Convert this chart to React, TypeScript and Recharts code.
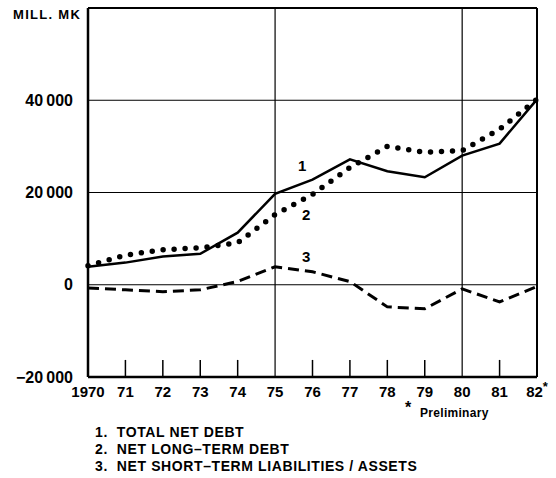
import { LineChart, Line, XAxis, YAxis, ReferenceLine } from "recharts";

const years = [1970, 1971, 1972, 1973, 1974, 1975, 1976, 1977, 1978, 1979, 1980, 1981, 1982];
const totalNetDebt = [3900, 4800, 6100, 6700, 11300, 19700, 22800, 27200, 24600, 23300, 28000, 30600, 40200];
const netLongTermDebt = [4100, 6400, 7600, 8000, 9100, 15200, 19600, 25400, 30000, 28700, 29100, 33700, 40200];
const netShortTerm = [-700, -1100, -1500, -1100, 700, 3900, 2800, 700, -4800, -5200, -900, -3700, -400];

const yTicks = [-20000, 0, 20000, 40000];
const yTickLabels = ["\u221220\u2009000", "0", "20\u2009000", "40\u2009000"];
const gridYears = [1975, 1980];
const tickYears = [1971, 1972, 1973, 1974, 1976, 1977, 1978, 1979, 1981];
const legendItems = [
  "1.  TOTAL NET DEBT",
  "2.  NET LONG\u2013TERM DEBT",
  "3.  NET SHORT\u2013TERM LIABILITIES / ASSETS",
];

const data = years.map((year, i) => ({
  year,
  total: totalNetDebt[i],
  longTerm: netLongTermDebt[i],
  shortTerm: netShortTerm[i],
}));

const FONT = "'Liberation Sans', Arial, sans-serif";

const XTick = (props: any) => {
  const { x, y, payload } = props;
  const v: number = payload.value;
  const label = v === 1970 ? "1970" : String(v).slice(2);
  return (
    <text x={x} y={y} dy="0.71em" textAnchor="middle" fontSize={15} fontWeight="bold" fill="#000" fontFamily={FONT}>
      <tspan>{label}</tspan>
      {v === 1982 && (
        <tspan dy={-6} fontSize={13}>
          *
        </tspan>
      )}
    </text>
  );
};

const yFormat = (v: number) => yTickLabels[yTicks.indexOf(v)] ?? "";

export default function App() {
  return (
    <div style={{ position: "relative", width: 556, height: 478, background: "#fff", fontFamily: FONT, fontWeight: "bold", color: "#000" }}>
      <style>{"body{margin:0}"}</style>
      <LineChart width={556} height={400} data={data} margin={{ top: 8, right: 19, bottom: 0, left: 0 }}>
        <XAxis
          dataKey="year"
          type="number"
          domain={[1970, 1982]}
          ticks={years}
          interval={0}
          height={23}
          tickSize={0}
          tickMargin={9}
          tickLine={false}
          axisLine={{ stroke: "#000", strokeWidth: 2.5 }}
          tick={<XTick />}
        />
        <YAxis
          type="number"
          domain={[-20000, 60000]}
          ticks={yTicks}
          width={88}
          tickSize={0}
          tickMargin={15}
          tickLine={false}
          axisLine={{ stroke: "#000", strokeWidth: 2.5 }}
          tickFormatter={yFormat}
          tick={{ fill: "#000", fontSize: 16, fontWeight: "bold", fontFamily: FONT }}
        />
        {[0, 20000, 40000].map((v) => (
          <ReferenceLine key={"h" + v} y={v} stroke="#000" strokeWidth={1} />
        ))}
        {gridYears.map((yr) => (
          <ReferenceLine key={"v" + yr} x={yr} stroke="#000" strokeWidth={1.2} />
        ))}
        {tickYears.map((yr) => (
          <ReferenceLine
            key={"t" + yr}
            segment={[
              { x: yr, y: -20000 },
              { x: yr, y: -16300 },
            ]}
            stroke="#000"
            strokeWidth={1.5}
          />
        ))}
        <ReferenceLine y={60000} stroke="#000" strokeWidth={2} />
        <ReferenceLine x={1982} stroke="#000" strokeWidth={2} />
        <Line
          dataKey="shortTerm"
          stroke="#000"
          strokeWidth={3}
          strokeDasharray="11 6"
          dot={false}
          isAnimationActive={false}
          type="linear"
        />
        <Line
          dataKey="longTerm"
          stroke="#000"
          strokeWidth={5.5}
          strokeDasharray="0 11"
          strokeLinecap="round"
          dot={false}
          isAnimationActive={false}
          type="linear"
        />
        <Line
          dataKey="total"
          stroke="#000"
          strokeWidth={2.5}
          dot={false}
          isAnimationActive={false}
          type="linear"
        />
      </LineChart>

      <div style={{ position: "absolute", left: 13, top: 7, fontSize: 13, letterSpacing: 1.3, lineHeight: "15px" }}>MILL. MK</div>
      <div style={{ position: "absolute", left: 298, top: 157, fontSize: 15, lineHeight: "17px" }}>1</div>
      <div style={{ position: "absolute", left: 302, top: 206, fontSize: 15, lineHeight: "17px" }}>2</div>
      <div style={{ position: "absolute", left: 302, top: 248, fontSize: 15, lineHeight: "17px" }}>3</div>
      <div style={{ position: "absolute", left: 405, top: 400, fontSize: 16, lineHeight: "16px" }}>*</div>
      <div style={{ position: "absolute", left: 420, top: 406, fontSize: 12, letterSpacing: 0.3, lineHeight: "14px" }}>Preliminary</div>
      <div style={{ position: "absolute", left: 95, top: 424 }}>
        {legendItems.map((t) => (
          <div key={t} style={{ fontSize: 14, lineHeight: "17px", letterSpacing: 0.6, whiteSpace: "pre" }}>
            {t}
          </div>
        ))}
      </div>
    </div>
  );
}
